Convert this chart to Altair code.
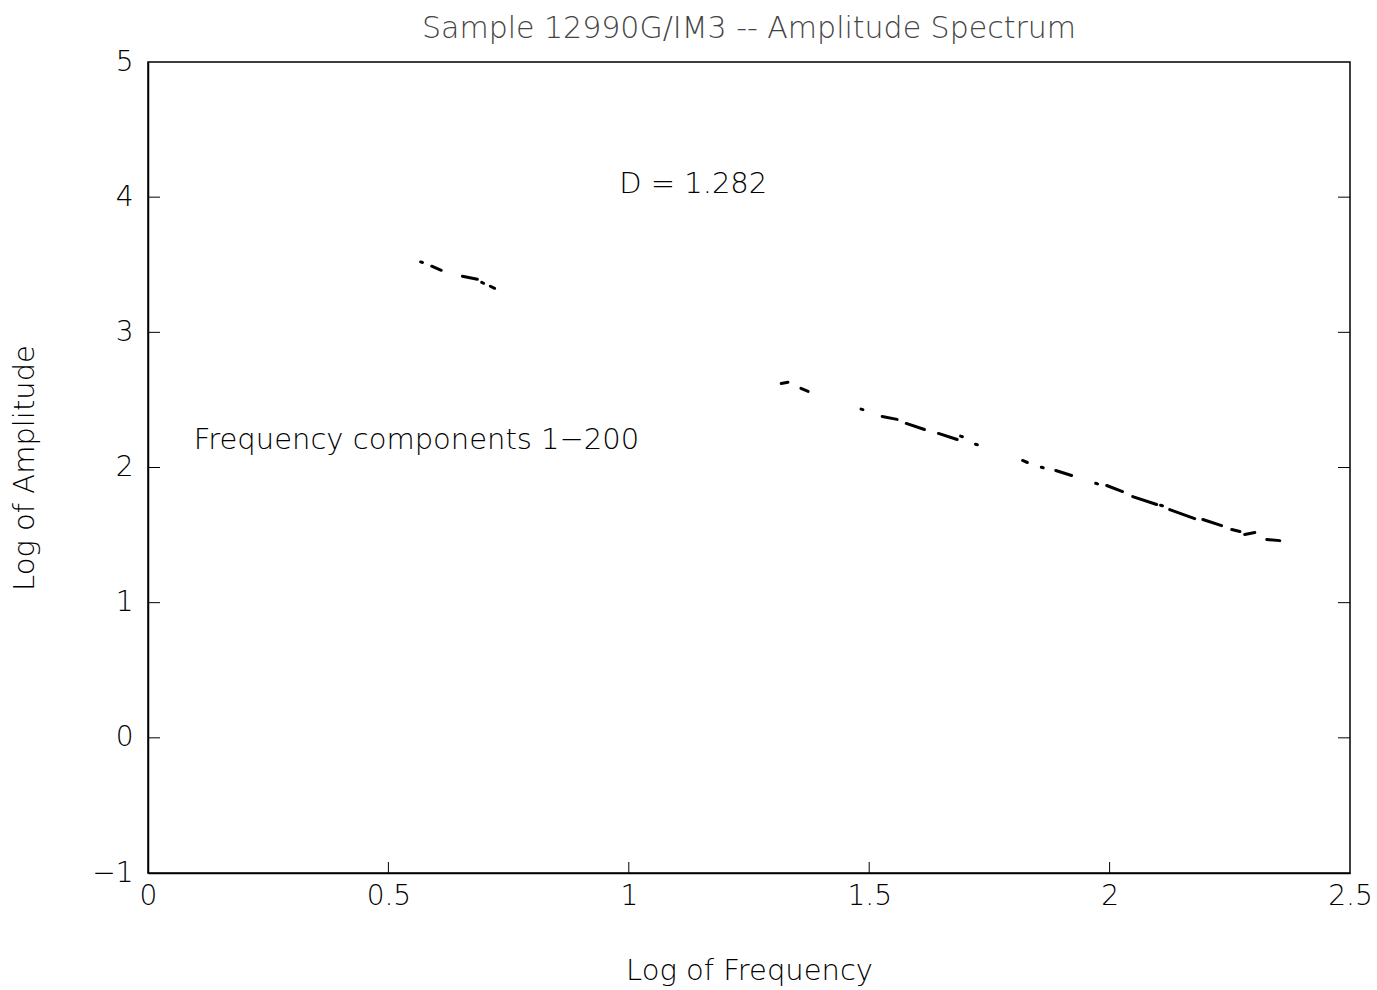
import altair as alt
import pandas as pd

# Visible dash fragments of the spectrum line (log frequency, log amplitude)
piece_id = [1, 1, 2, 2, 3, 3, 4, 4, 5, 5,
            6, 6, 7, 7, 8, 8, 9, 9, 10, 10, 11, 11, 12, 12, 13, 13,
            14, 14, 15, 15, 16, 16, 17, 17, 18, 18, 19, 19, 20, 20,
            21, 21, 22, 22, 23, 23, 24, 24, 25, 25]
log_freq = [0.567, 0.571, 0.590, 0.610, 0.654, 0.685, 0.694, 0.698, 0.712, 0.721,
            1.317, 1.331, 1.358, 1.373, 1.483, 1.487, 1.527, 1.558, 1.577, 1.615,
            1.644, 1.683, 1.690, 1.694, 1.721, 1.725,
            1.819, 1.829, 1.858, 1.862, 1.888, 1.921, 1.971, 1.975, 1.994, 2.027,
            2.048, 2.098, 2.106, 2.110, 2.125, 2.177, 2.194, 2.233, 2.254, 2.271,
            2.281, 2.302, 2.327, 2.354]
log_amp = [3.521, 3.517, 3.489, 3.459, 3.415, 3.393, 3.370, 3.363, 3.341, 3.326,
           2.622, 2.630, 2.585, 2.563, 2.432, 2.428, 2.378, 2.356, 2.326, 2.281,
           2.252, 2.207, 2.232, 2.228, 2.172, 2.168,
           2.052, 2.037, 2.002, 1.998, 1.978, 1.941, 1.883, 1.879, 1.867, 1.822,
           1.785, 1.726, 1.721, 1.717, 1.689, 1.622, 1.615, 1.570, 1.541, 1.526,
           1.504, 1.519, 1.467, 1.459]

y_ticks_left = [0, 1, 2, 3, 4]
y_ticks_right = [0, 1, 2, 3, 4]
x_ticks = [0.5, 1.0, 1.5, 2.0]

title_text = "Sample 12990G/IM3 -- Amplitude Spectrum"
x_title = "Log of Frequency"
y_title = "Log of Amplitude"
note_d = "D = 1.282"
note_d_pos = (0.98, 4.10)
note_f = "Frequency components 1\u2212200"
note_f_pos = (0.095, 2.20)

FONT = "DejaVu Sans"

df = pd.DataFrame({"piece": piece_id, "lf": log_freq, "la": log_amp})

xs = alt.Scale(domain=[0, 2.5], nice=False, zero=False)
ys = alt.Scale(domain=[-1, 5], nice=False, zero=False)

base_x = alt.X("lf:Q", scale=xs,
               axis=alt.Axis(values=[0, 0.5, 1, 1.5, 2, 2.5], format="~g",
                             title=x_title, ticks=False, grid=False,
                             labelFlush=False, labelPadding=9, titlePadding=46,
                             domainColor="black", domainWidth=1.5))
base_y = alt.Y("la:Q", scale=ys,
               axis=alt.Axis(values=[-1, 0, 1, 2, 3, 4, 5], format="d",
                             title=y_title, ticks=False, grid=False,
                             labelFlush=False, labelPadding=15, titlePadding=52,
                             domainColor="black", domainWidth=1.5))

line = alt.Chart(df).mark_line(color="black", strokeWidth=3, strokeCap="round").encode(
    x=base_x, y=base_y, detail="piece:N"
)

ytl = pd.DataFrame({"v": y_ticks_left})
left_ticks = alt.Chart(ytl).mark_rule(color="black", strokeWidth=1).encode(
    y=alt.Y("v:Q", scale=ys), x=alt.value(0), x2=alt.value(12)
)
ytr = pd.DataFrame({"v": y_ticks_right})
right_ticks = alt.Chart(ytr).mark_rule(color="black", strokeWidth=1).encode(
    y=alt.Y("v:Q", scale=ys), x=alt.value(1202), x2=alt.value(1190)
)
xt = pd.DataFrame({"v": x_ticks})
bottom_ticks = alt.Chart(xt).mark_rule(color="black", strokeWidth=1).encode(
    x=alt.X("v:Q", scale=xs), y=alt.value(811), y2=alt.value(800)
)

notes = pd.DataFrame({
    "t": [note_d, note_f],
    "x": [note_d_pos[0], note_f_pos[0]],
    "y": [note_d_pos[1], note_f_pos[1]],
})
text = alt.Chart(notes).mark_text(align="left", baseline="middle", fontSize=29,
                                  font=FONT, fontWeight=300, color="black").encode(
    x=alt.X("x:Q", scale=xs), y=alt.Y("y:Q", scale=ys), text="t:N"
)

chart = alt.layer(line, left_ticks, right_ticks, bottom_ticks, text).properties(
    width=1202, height=811,
    title=alt.TitleParams(title_text, fontSize=30, font=FONT, fontWeight=300,
                          color="#444444", offset=4, anchor="middle"),
    autosize=alt.AutoSizeParams(type="none"),
    padding={"left": 148, "top": 62, "right": 27, "bottom": 117},
).configure_view(
    stroke="black", strokeWidth=1.5
).configure_axis(
    labelFont=FONT, labelFontSize=28, labelColor="black", labelFontWeight=300,
    titleFont=FONT, titleFontSize=29, titleFontWeight=300, titleColor="black",
)

chart.save("out.html", embed_options={"renderer": "svg", "actions": False})
